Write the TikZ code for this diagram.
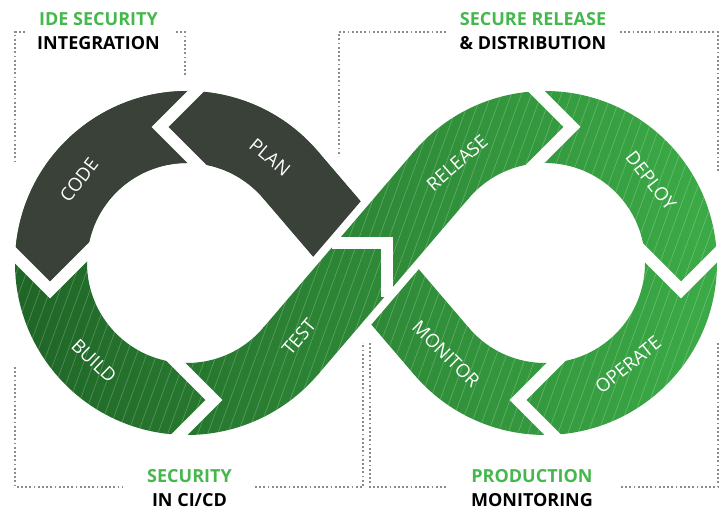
\documentclass[tikz,border=0pt]{standalone}
\usepackage{fontspec}
\setmainfont{Open Sans}
\usetikzlibrary{calc}

\definecolor{slate}{HTML}{3A4139}
\definecolor{greenleft}{HTML}{1F6426}
\definecolor{greenright}{HTML}{3CAC47}
\definecolor{headgreen}{HTML}{44B74D}
\definecolor{dotgrey}{HTML}{8C8C8C}

\tikzset{
  cutline/.style={draw=white, line width=12pt, line join=miter},
  hatchline/.style={draw=white, opacity=0.25, line width=0.6pt},
  stage/.style={text=white, font=\fontsize{18.5}{18.5}\selectfont, inner sep=0pt},
  headline/.style={font=\bfseries\fontsize{18}{18}\selectfont, anchor=base, inner sep=0pt},
  bracket/.style={draw=dotgrey, line width=1.8pt, dash pattern=on 1.8pt off 2.4pt}
}

\newcommand{\leftring}{($(C1)+(39.5:172)$) arc[start angle=39.5, end angle=320.5, radius=172]
  -- ($(C1)+(320.5:100)$) arc[start angle=320.5, end angle=39.5, radius=100] -- cycle}
\newcommand{\rightring}{($(C2)+(140.5:172)$) arc[start angle=140.5, end angle=-140.5, radius=172]
  -- ($(C2)+(-140.5:100)$) arc[start angle=-140.5, end angle=140.5, radius=100] -- cycle}
\newcommand{\underband}{($(C1)+(40.56:172)$) -- ($(C2)+(220.56:100)$)
  -- ($(C2)+(220.56:172)$) -- ($(C1)+(40.56:100)$) -- cycle}
\newcommand{\overband}{($(C1)+(-40.56:172)$) -- ($(C2)+(139.44:100)$)
  -- ($(C2)+(139.44:172)$) -- ($(C1)+(-40.56:100)$) -- cycle}
\newcommand{\greenpiece}[1]{\begin{scope}
  \clip #1;
  \shade[left color=greenleft, right color=greenright] (0,0) rectangle (727,510);
  \foreach \hx in {-200,-190,...,730} \draw[hatchline] (\hx,0) -- ++(70:545);
  \end{scope}}

\begin{document}
\begin{tikzpicture}[x=1pt, y=1pt]
\useasboundingbox (0,0) rectangle (727,510);

\coordinate (C1) at (187,247);
\coordinate (C2) at (545,247);
\coordinate (M) at (366,247);

% rings and the band that runs under
\greenpiece{\leftring}
\greenpiece{\rightring}
\greenpiece{\underband}

% code and plan
\begin{scope}
  \clip \leftring;
  \clip (-10,280) -- (50,220) -- (110,280) -- (400,280) -- (400,520) -- (-10,520) -- cycle;
  \fill[slate] (0,0) rectangle (727,510);
\end{scope}
\begin{scope}
  \clip \underband;
  \clip ($(M)+(49.44:250)$) -- ($(M)+(229.44:250)$) -- ++(139.44:250)
    -- ($(M)+(49.44:250)+(139.44:250)$) -- cycle;
  \fill[slate] (0,0) rectangle (727,510);
\end{scope}

% band on top
\draw[white, line width=16pt] ($(M)+(139.44:36)+(229.44:60)$) -- ($(M)+(139.44:36)+(49.44:60)$);
\draw[white, line width=16pt] ($(M)+(-40.56:36)+(229.44:60)$) -- ($(M)+(-40.56:36)+(49.44:60)$);
\greenpiece{\overband}

% arrow cuts
\draw[cutline] (210,433) -- (160,383) -- (210,333);
\draw[cutline] (0,270) -- (50,220) -- (100,270);
\draw[cutline] (164,160) -- (214,110) -- (164,60);
\draw[cutline] (332,266.5) -- (387,266.5) -- (387,213);
\draw[cutline] (522,433) -- (572,383) -- (522,333);
\draw[cutline] (631,270) -- (681,220) -- (731,270);
\draw[cutline] (568,160) -- (518,110) -- (568,60);

\node[stage, rotate=52.5] (code) at (79,330) {CODE};
\node[stage, rotate=-40] (plan) at (270,353) {PLAN};
\node[stage, rotate=-43.5] (build) at (94,149) {BUILD};
\node[stage, rotate=50] (test) at (299,173) {TEST};
\node[stage, rotate=41] (release) at (457,347) {RELEASE};
\node[stage, rotate=-52] (deploy) at (651,329) {DEPLOY};
\node[stage, rotate=39] (operate) at (628,145) {OPERATE};
\node[stage, rotate=-45] (monitor) at (446,156) {MONITOR};

\node[headline, text=headgreen] (ide) at (98.5,484) {IDE SECURITY};
\node[headline] (ide2) at (98.5,460) {INTEGRATION};
\node[headline, text=headgreen] (rel) at (533,484) {SECURE RELEASE};
\node[headline] (rel2) at (533,460) {\& DISTRIBUTION};
\node[headline, text=headgreen] (cicd) at (189.5,27) {SECURITY};
\node[headline] (cicd2) at (189.5,3) {IN CI/CD};
\node[headline, text=headgreen] (prod) at (532,27) {PRODUCTION};
\node[headline] (prod2) at (532,3) {MONITORING};

\draw[bracket] (25,478) -- (15,478) -- (15,348);
\draw[bracket] (176,478) -- (185,478) -- (185,435);
\draw[bracket] (446,478) -- (339,478) -- (339,354);
\draw[bracket] (620,478) -- (718,478) -- (718,337);
\draw[bracket] (15,143) -- (15,23) -- (122,23);
\draw[bracket] (255,23) -- (363,23) -- (363,167);
\draw[bracket] (446,23) -- (370,23) -- (370,167);
\draw[bracket] (621,23) -- (718,23) -- (718,167);
\end{tikzpicture}
\end{document}
